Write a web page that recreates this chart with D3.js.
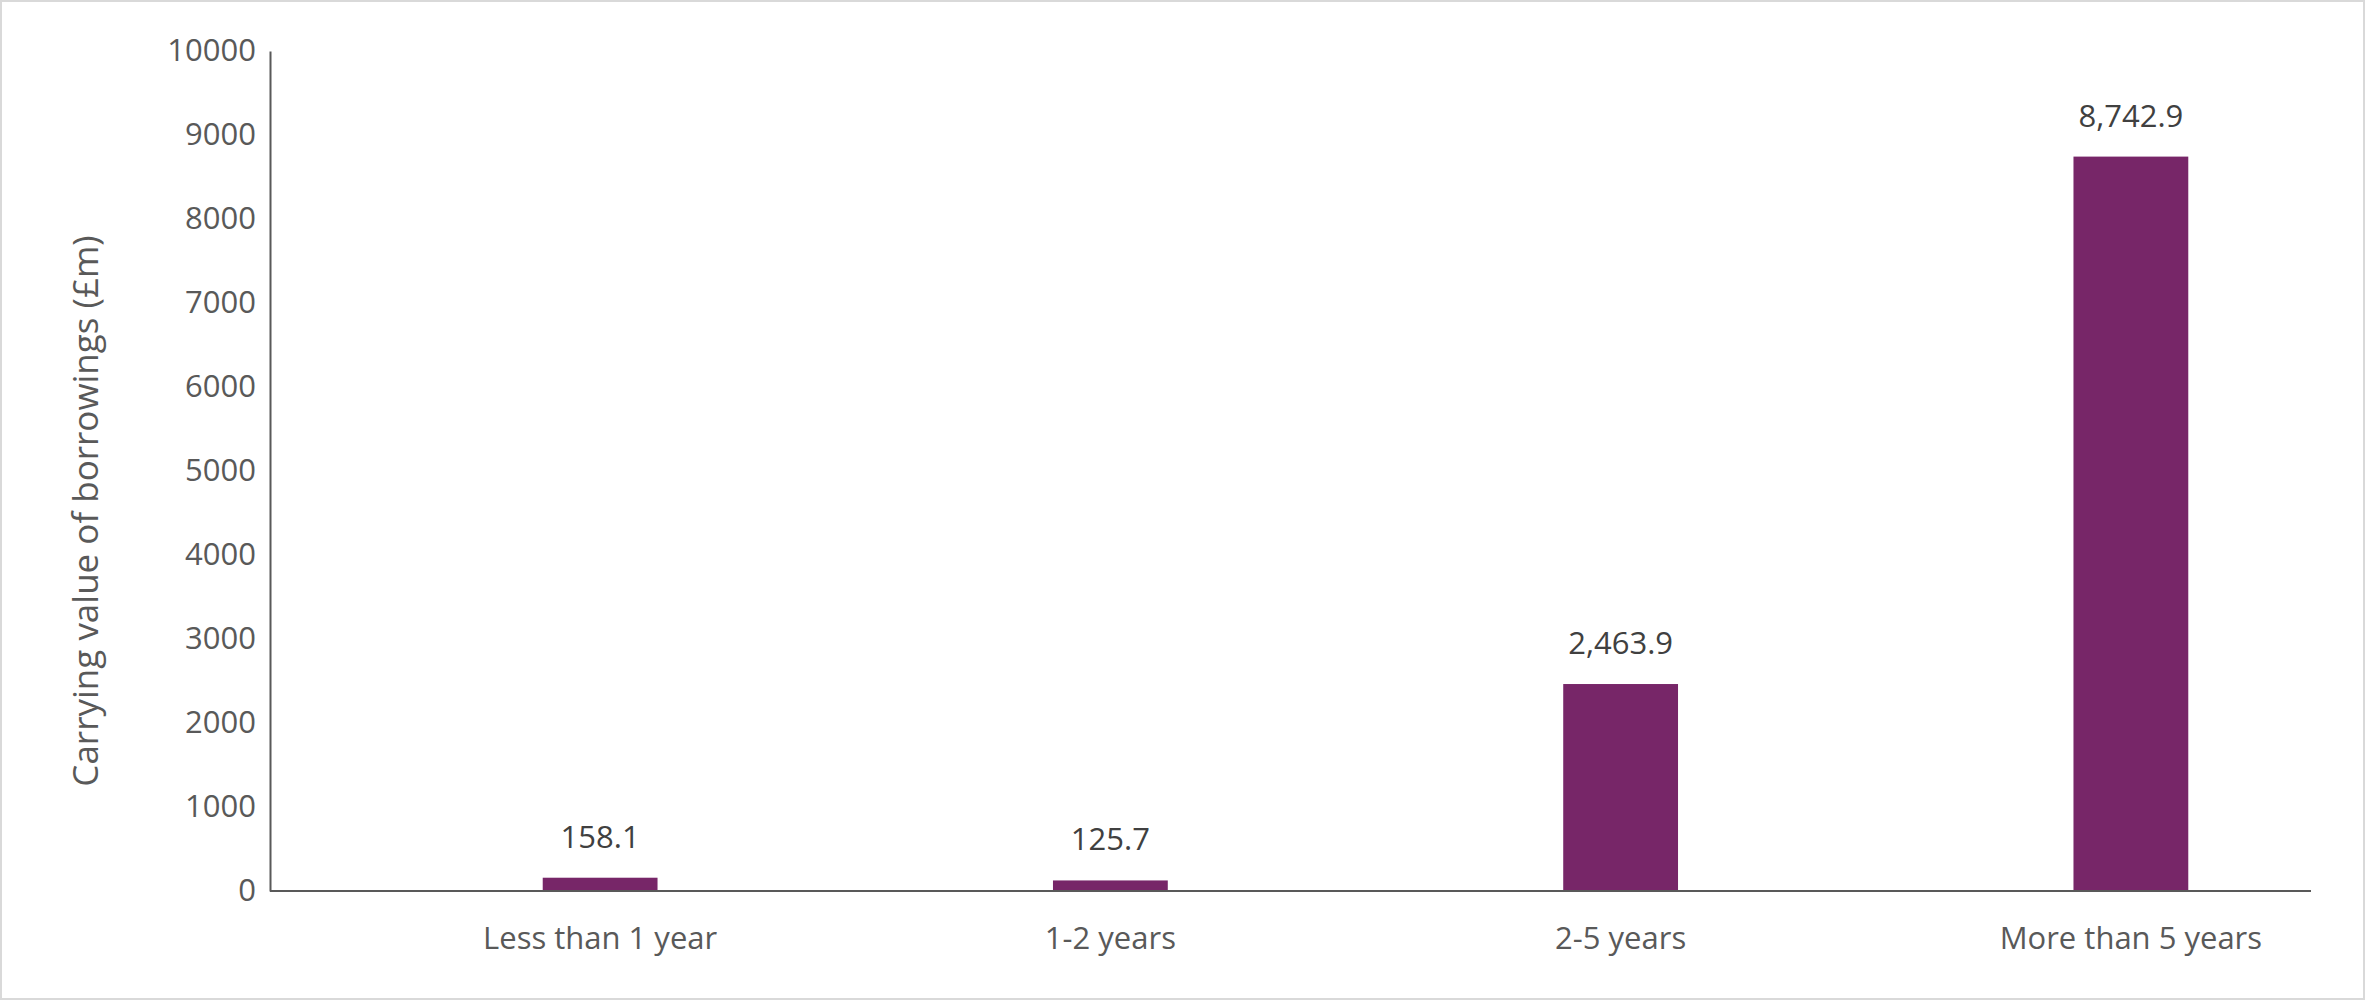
<!DOCTYPE html>
<html><head><meta charset="utf-8">
<script src="https://cdn.jsdelivr.net/npm/d3@7"></script>
<style>body{margin:0;background:#fff}</style></head>
<body><svg id="c" width="2365" height="1000"></svg>
<script>
const categories = ["Less than 1 year","1-2 years","2-5 years","More than 5 years"];
const values = [158.1, 125.7, 2463.9, 8742.9];
const valueLabels = ["158.1","125.7","2,463.9","8,742.9"];
const yTicks = [0,1000,2000,3000,4000,5000,6000,7000,8000,9000,10000];

const svg = d3.select("#c");
const font = "'Open Sans', sans-serif";
svg.append("rect").attr("x",1).attr("y",1).attr("width",2363).attr("height",998)
  .attr("fill","#fff").attr("stroke","#d9d9d9").attr("stroke-width",2);

const L=270,R=2311,T=51,B=891,SHIFT=75;
const x = d3.scaleBand().domain(categories).range([L+SHIFT,R+SHIFT]).paddingInner(0.775).paddingOuter(0.3875);
const y = d3.scaleLinear().domain([0,10000]).range([B,T]);

const ya = svg.append("g").attr("transform",`translate(${L},0)`)
  .call(d3.axisLeft(y).tickValues(yTicks).tickSize(0).tickPadding(14).tickFormat(d3.format("d")));
ya.select(".domain").attr("stroke","#595959").attr("stroke-width",2);
ya.selectAll("text").attr("font-family",font).attr("font-size",31).attr("fill","#595959");

svg.selectAll("rect.bar").data(values).join("rect").attr("class","bar")
  .attr("x",(d,i)=>x(categories[i])).attr("width",x.bandwidth())
  .attr("y",d=>y(d)).attr("height",d=>B-y(d)).attr("fill","#772668");

const xa = svg.append("g").attr("transform",`translate(0,${B})`)
  .call(d3.axisBottom(x).tickSize(0).tickPadding(36));
xa.select(".domain").remove();
xa.selectAll("text").attr("font-family",font).attr("font-size",31).attr("fill","#595959");
svg.append("line").attr("x1",L).attr("x2",R).attr("y1",B).attr("y2",B)
  .attr("stroke","#595959").attr("stroke-width",2);

svg.selectAll("text.lbl").data(values).join("text").attr("class","lbl")
  .attr("x",(d,i)=>x(categories[i])+x.bandwidth()/2).attr("y",d=>y(d)-30)
  .attr("text-anchor","middle").attr("font-family",font).attr("font-size",31).attr("fill","#404040")
  .text((d,i)=>valueLabels[i]);

svg.append("text").attr("transform",`translate(98,${(T+B)/2+40}) rotate(-90)`)
  .attr("text-anchor","middle").attr("font-family",font).attr("font-size",35).attr("fill","#595959")
  .text("Carrying value of borrowings (£m)");
</script></body></html>
